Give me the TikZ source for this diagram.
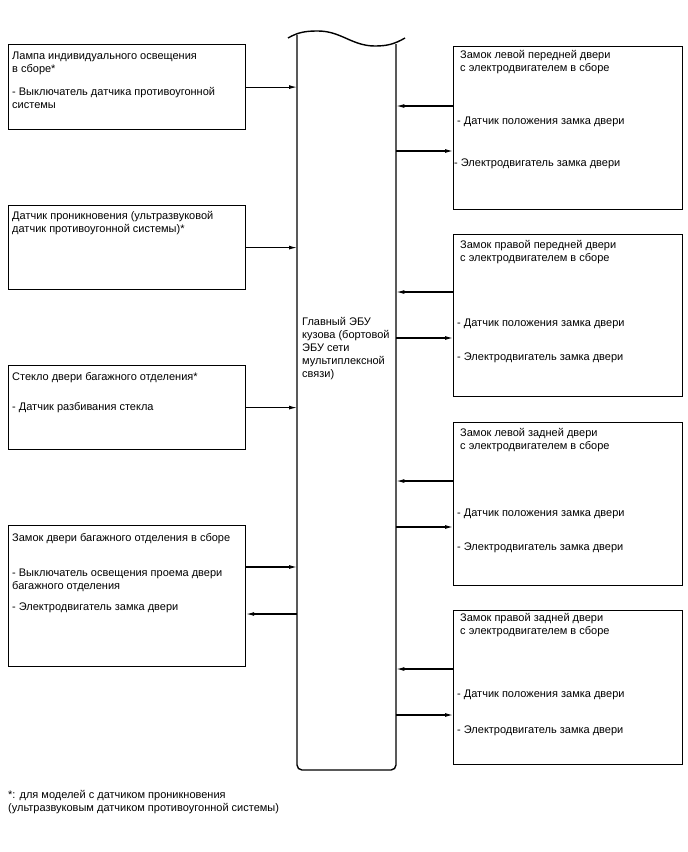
\documentclass[tikz,border=0pt]{standalone}
\usepackage{fontspec}
\setmainfont{Liberation Sans}
\usetikzlibrary{arrows.meta}
\begin{document}
\begin{tikzpicture}[x=1pt,y=-1pt,
  box/.style={draw, line width=1.2pt, anchor=north west, inner sep=0pt},
  txt/.style={anchor=north west, inner sep=0pt, align=left, font=\fontsize{11}{13}\selectfont},
  conn/.style={line width=1.1pt, -{Latex[length=8pt,width=4pt]}},
  bus/.style={line width=1.4pt}]
\path[use as bounding box] (0,0) rectangle (688,852);

% ECU
\node[anchor=north west, minimum width=99pt, minimum height=730pt, inner sep=0pt] (ecu) at (297,40) {};
\draw[bus] (288,38) to[out=30,in=180] (318,31) to[out=0,in=180] (375,46) to[out=0,in=210] (405,38);
\draw[bus, rounded corners=5pt] (297,35) -- (297,770) -- (396,770) -- (396,44);
\node[txt] (ecutxt) at (302,316.5) {\strut Главный ЭБУ\\кузова (бортовой\\ЭБУ сети\\мультиплексной\\связи)};

% Left boxes
\node[box, minimum width=237pt, minimum height=85pt] (L1) at (8,44) {};
\node[box, minimum width=237pt, minimum height=84pt] (L2) at (8,205) {};
\node[box, minimum width=237pt, minimum height=84pt] (L3) at (8,365) {};
\node[box, minimum width=237pt, minimum height=141pt] (L4) at (8,525) {};

\node[txt] (l1a) at (12,50.5) {\strut Лампа индивидуального освещения\\в сборе*};
\node[txt] (l1b) at (12,86.5) {\strut - Выключатель датчика противоугонной\\системы};
\node[txt] (l2a) at (12,210.5) {\strut Датчик проникновения (ультразвуковой\\датчик противоугонной системы)*};
\node[txt] (l3a) at (12,371.5) {\strut Стекло двери багажного отделения*};
\node[txt] (l3b) at (12,401.5) {\strut - Датчик разбивания стекла};
\node[txt] (l4a) at (12,532.5) {\strut Замок двери багажного отделения в сборе};
\node[txt] (l4b) at (12,567.5) {\strut - Выключатель освещения проема двери\\багажного отделения};
\node[txt] (l4c) at (12,601.5) {\strut - Электродвигатель замка двери};

% Right boxes
\node[box, minimum width=229pt, minimum height=163pt] (R1) at (453,46) {};
\node[box, minimum width=229pt, minimum height=162pt] (R2) at (453,234) {};
\node[box, minimum width=229pt, minimum height=163pt] (R3) at (453,422) {};
\node[box, minimum width=229pt, minimum height=154pt] (R4) at (453,610) {};

\node[txt] (r1a) at (460,49.5) {\strut Замок левой передней двери\\с электродвигателем в сборе};
\node[txt] (r1b) at (457,115.5) {\strut - Датчик положения замка двери};
\node[txt] (r1c) at (454,157.5) {\strut - Электродвигатель замка двери};
\node[txt] (r2a) at (460,239.5) {\strut Замок правой передней двери\\с электродвигателем в сборе};
\node[txt] (r2b) at (457,317.5) {\strut - Датчик положения замка двери};
\node[txt] (r2c) at (457,351.5) {\strut - Электродвигатель замка двери};
\node[txt] (r3a) at (460,427.5) {\strut Замок левой задней двери\\с электродвигателем в сборе};
\node[txt] (r3b) at (457,507.5) {\strut - Датчик положения замка двери};
\node[txt] (r3c) at (457,541.5) {\strut - Электродвигатель замка двери};
\node[txt] (r4a) at (460,612.5) {\strut Замок правой задней двери\\с электродвигателем в сборе};
\node[txt] (r4b) at (457,688.5) {\strut - Датчик положения замка двери};
\node[txt] (r4c) at (457,724.5) {\strut - Электродвигатель замка двери};

% Footnote
\node[txt] (fn) at (8,789.5) {\strut *: для моделей с датчиком проникновения\\(ультразвуковым датчиком противоугонной системы)};

% Connectors left
\draw[conn] (L1.east) -- (L1.east -| ecu.west);
\draw[conn] (L2.east) -- (L2.east -| ecu.west);
\draw[conn] (L3.east) -- (L3.east -| ecu.west);
\draw[conn] (L4.east |- 0,567) -- (ecu.west |- 0,567);
\draw[conn] (ecu.west |- 0,614) -- (L4.east |- 0,614);

% Connectors right
\draw[conn] (R1.west |- 0,106) -- (ecu.east |- 0,106);
\draw[conn] (ecu.east |- 0,151) -- (R1.west |- 0,151);
\draw[conn] (R2.west |- 0,292) -- (ecu.east |- 0,292);
\draw[conn] (ecu.east |- 0,338) -- (R2.west |- 0,338);
\draw[conn] (R3.west |- 0,481) -- (ecu.east |- 0,481);
\draw[conn] (ecu.east |- 0,527) -- (R3.west |- 0,527);
\draw[conn] (R4.west |- 0,669) -- (ecu.east |- 0,669);
\draw[conn] (ecu.east |- 0,715) -- (R4.west |- 0,715);
\end{tikzpicture}
\end{document}
